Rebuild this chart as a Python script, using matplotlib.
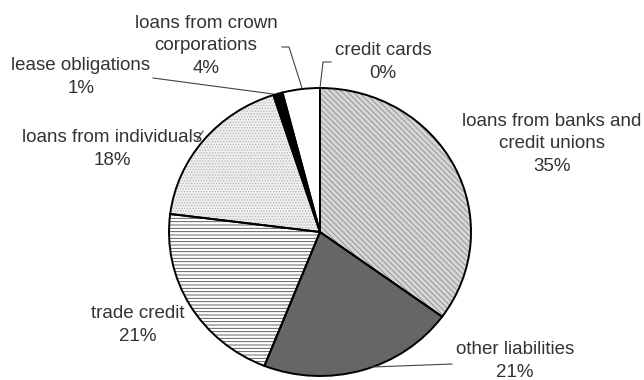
import matplotlib
matplotlib.use("Agg")
import matplotlib.pyplot as plt
from matplotlib.transforms import Affine2D

plt.rcParams["font.family"] = ["Liberation Sans", "DejaVu Sans"]
plt.rcParams["hatch.linewidth"] = 0.6

labels = [
    "loans from banks and\ncredit unions",
    "other liabilities",
    "trade credit",
    "loans from individuals",
    "lease obligations",
    "loans from crown\ncorporations",
    "credit cards",
]
shares = [35, 21, 21, 18, 1, 4, 0]

fills = ["#d6d6d6", "#666666", "white", "#efefef", "black", "white", "white"]
hatches = ["\\\\\\\\\\\\", None, "-----", "......", None, None, None]
hatch_colors = ["#8c8c8c", "#666666", "#4a4a4a", "#b4b4b4", "black", "white", "white"]

W, H = 644, 380
cx, cy, r = 320, 232, 151
squash = 144 / 151

# label positions in pixel coordinates (x, y from top)
label_pos = [(552, 144), (515, 361), (138, 325), (112, 149), (81, 77), (206, 46), (383, 62)]
leaders = [
    None,
    [(452, 364), (372, 367)],
    None,
    [(197, 140), (203, 131)],
    [(153, 78), (273, 94)],
    [(282, 47), (289, 47), (302, 88)],
    [(331, 62), (323, 62), (320, 88)],
]

fig = plt.figure(figsize=(6.44, 3.80), dpi=100)
ax = fig.add_axes([0, 0, 1, 1])

squeeze = Affine2D().translate(-cx, -(H - cy)).scale(1, squash).translate(cx, H - cy) + ax.transData

wedges, _ = ax.pie(shares, startangle=90, counterclock=False, center=(cx, H - cy), radius=r,
                   colors=fills, wedgeprops=dict(linewidth=0), frame=True)
for w, hatch, hc in zip(wedges, hatches, hatch_colors):
    w.set_transform(squeeze)
    w.set_edgecolor(hc)
    w.set_linewidth(0)
    if hatch:
        w.set_hatch(hatch)

outline, _ = ax.pie(shares, startangle=90, counterclock=False, center=(cx, H - cy), radius=r,
                    wedgeprops=dict(fill=False, edgecolor="black", linewidth=1.4), frame=True)
for w in outline:
    w.set_transform(squeeze)

ax.set_xlim(0, W)
ax.set_ylim(0, H)
ax.set_aspect("auto")
ax.axis("off")

for name, share, (x, y), lead in zip(labels, shares, label_pos, leaders):
    ax.text(x, H - y, f"{name}\n{share}%", ha="center", va="center", fontsize=13.5,
            color="#333333", linespacing=1.4)
    if lead:
        xs = [p[0] for p in lead]
        ys = [H - p[1] for p in lead]
        ax.plot(xs, ys, color="#444444", linewidth=0.8)

fig.savefig("out.png", dpi=100)
